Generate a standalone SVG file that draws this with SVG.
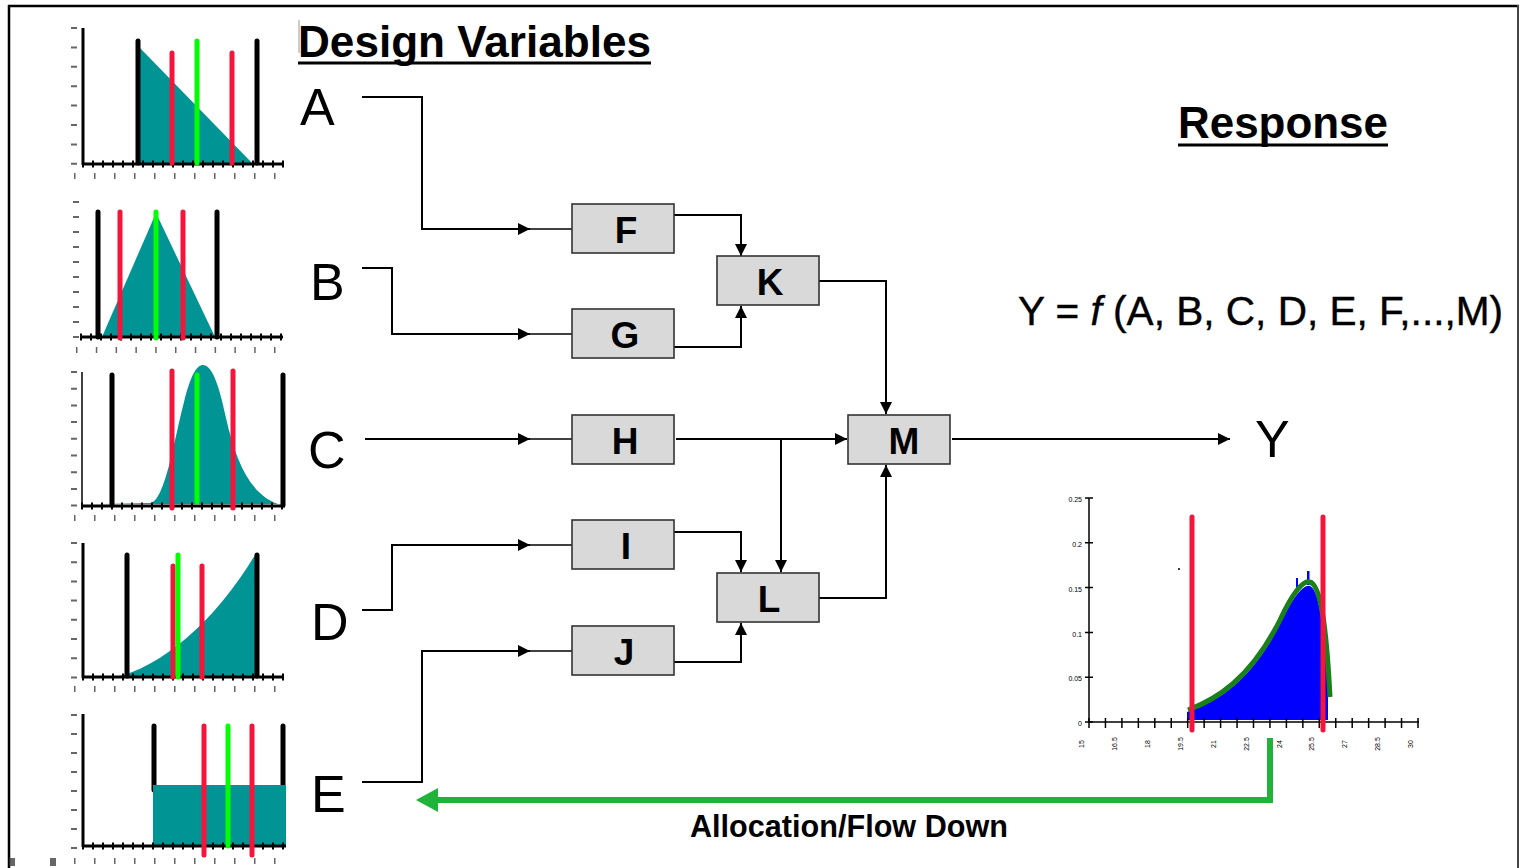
<svg xmlns="http://www.w3.org/2000/svg" width="1520" height="868" viewBox="0 0 1520 868">
<style>
.box{fill:#d9d9d9;stroke:#333;stroke-width:1.6}
.bl{font-family:"Liberation Sans",Arial,sans-serif;font-weight:bold;font-size:37px;text-anchor:middle;fill:#000}
.var{font-family:"Liberation Sans",Arial,sans-serif;font-size:52px;fill:#000}
.ttl{font-family:"Liberation Sans",Arial,sans-serif;font-weight:bold;font-size:44px;fill:#000}
.c{fill:none;stroke:#000;stroke-width:2}
.ct{fill:none;stroke:#000;stroke-width:1.4}
.ax{stroke:#000;stroke-width:3;fill:none}
.tk{stroke:#000;stroke-width:7;stroke-dasharray:2 8;fill:none}
.lb{stroke:#333;stroke-width:6;fill:none;opacity:0.75}
.teal{fill:#009494}
.k{stroke:#000;stroke-width:5;stroke-linecap:round}
.r{stroke:#f5143c;stroke-width:5;stroke-linecap:round}
.g{stroke:#00ff00;stroke-width:5;stroke-linecap:round}
.sm{font-family:"Liberation Sans",Arial,sans-serif;font-size:7px;fill:#000}
</style>
<defs>
<marker id="ah" markerWidth="12" markerHeight="12" refX="12" refY="6" orient="auto" markerUnits="userSpaceOnUse"><path d="M0,0 L12,6 L0,12 Z" fill="#000"/></marker>
</defs>

<g id="frame">
<line x1="8" y1="6" x2="1519" y2="6" stroke="#000" stroke-width="2.5"/>
<line x1="9" y1="5" x2="9" y2="868" stroke="#000" stroke-width="2.5"/>
<line x1="1518" y1="5" x2="1518" y2="868" stroke="#444" stroke-width="2"/>
<line x1="299" y1="20" x2="299" y2="53" stroke="#999" stroke-width="1"/>
</g>

<g id="titles">
<text class="ttl" x="298" y="57" textLength="353" lengthAdjust="spacingAndGlyphs">Design Variables</text>
<line x1="298" y1="63" x2="651" y2="63" stroke="#000" stroke-width="3"/>
<text class="ttl" x="1178" y="138" textLength="210" lengthAdjust="spacingAndGlyphs">Response</text>
<line x1="1178" y1="145" x2="1388" y2="145" stroke="#000" stroke-width="3"/>
</g>

<g id="chartA">
<polygon class="teal" points="140,48 253,164 140,164"/>
<line class="ax" x1="83" y1="28" x2="83" y2="165"/>
<line class="ax" x1="82" y1="164" x2="284" y2="164"/>
<line class="tk" x1="82" y1="164" x2="285" y2="164"/>
<line class="lb" x1="74" y1="27" x2="74" y2="166" stroke-width="6" stroke-dasharray="2 17.4"/>
<line class="lb" x1="74" y1="176" x2="284" y2="176" stroke-width="7" stroke-dasharray="1.5 18.5"/>
<line class="k" x1="138" y1="41" x2="138" y2="163"/>
<line class="k" x1="257" y1="41" x2="257" y2="163"/>
<line class="r" x1="172" y1="53" x2="172" y2="163"/>
<line class="r" x1="232" y1="53" x2="232" y2="163"/>
<line class="g" x1="197" y1="41" x2="197" y2="163"/>
</g>

<g id="chartB">
<polygon class="teal" points="102,337 156,213 215,337"/>
<line class="ax" x1="80" y1="337" x2="283" y2="337"/>
<line class="tk" x1="80" y1="337" x2="284" y2="337" stroke-dasharray="2 7.8"/>
<line class="lb" x1="76" y1="201" x2="76" y2="339" stroke-dasharray="2 13"/>
<line class="lb" x1="76" y1="350" x2="284" y2="350" stroke-width="7" stroke-dasharray="1.5 18.3"/>
<line class="k" x1="98" y1="212" x2="98" y2="337"/>
<line class="k" x1="217" y1="212" x2="217" y2="337"/>
<line class="r" x1="120" y1="212" x2="120" y2="338"/>
<line class="r" x1="183" y1="212" x2="183" y2="338"/>
<line class="g" x1="156" y1="212" x2="156" y2="338"/>
</g>

<g id="chartC">
<path class="teal" d="M103,504 L150,503 C165,502 174,440 184,402 C191,374 197,365 203,365 C211,365 218,380 226,418 C236,462 250,494 278,504 Z"/>
<line x1="82" y1="372" x2="82" y2="506" stroke="#000" stroke-width="1.5"/>
<line class="ax" x1="81" y1="506" x2="285" y2="506"/>
<line class="tk" x1="81" y1="506" x2="285" y2="506"/>
<line class="lb" x1="74" y1="371" x2="74" y2="508" stroke-dasharray="2 14.7"/>
<line class="lb" x1="74" y1="518" x2="284" y2="518" stroke-width="7" stroke-dasharray="1.5 18.5"/>
<line class="k" x1="112" y1="375" x2="112" y2="505"/>
<line class="k" x1="283" y1="375" x2="283" y2="505"/>
<line class="r" x1="172" y1="371" x2="172" y2="508"/>
<line class="r" x1="233" y1="371" x2="233" y2="508"/>
<line class="g" x1="197" y1="375" x2="197" y2="502"/>
</g>

<g id="chartD">
<path class="teal" d="M115,677 C160,668 215,622 255,555 L258,556 L258,677 Z"/>
<line class="ax" x1="83" y1="543" x2="83" y2="678"/>
<line class="ax" x1="82" y1="677" x2="283" y2="677"/>
<line class="tk" x1="82" y1="677" x2="284" y2="677"/>
<line class="lb" x1="74" y1="542" x2="74" y2="679" stroke-dasharray="2 17.2"/>
<line class="lb" x1="74" y1="689" x2="284" y2="689" stroke-width="7" stroke-dasharray="1.5 18.5"/>
<line class="k" x1="127" y1="555" x2="127" y2="676"/>
<line class="k" x1="257" y1="555" x2="257" y2="676"/>
<line class="r" x1="173" y1="566" x2="173" y2="677"/>
<line class="r" x1="202" y1="566" x2="202" y2="677"/>
<line class="g" x1="178" y1="555" x2="178" y2="677"/>
</g>

<g id="chartE">
<line class="k" x1="154" y1="726" x2="154" y2="790"/>
<line class="k" x1="283" y1="726" x2="283" y2="790"/>
<rect class="teal" x="153" y="785" width="133" height="61"/>
<line class="ax" x1="83" y1="714" x2="83" y2="847"/>
<line class="ax" x1="82" y1="846" x2="286" y2="846"/>
<line class="tk" x1="82" y1="846" x2="287" y2="846"/>
<line class="lb" x1="74" y1="714" x2="74" y2="850" stroke-dasharray="2 17"/>
<line class="lb" x1="74" y1="861" x2="284" y2="861" stroke-width="7" stroke-dasharray="1.5 18.5"/>
<line class="lb" x1="12" y1="858" x2="12" y2="866" stroke-width="1.5"/>
<line class="lb" x1="53" y1="858" x2="53" y2="866" stroke-width="1.5"/>
<line class="r" x1="204" y1="726" x2="204" y2="855"/>
<line class="r" x1="252" y1="726" x2="252" y2="855"/>
<line class="g" x1="228" y1="726" x2="228" y2="846"/>
</g>

<g id="labels">
<text class="var" x="300" y="125">A</text>
<text class="var" x="310" y="300">B</text>
<text class="var" x="308" y="468">C</text>
<text class="var" x="311" y="640">D</text>
<text class="var" x="311" y="812">E</text>
<text class="var" x="1255" y="457">Y</text>
<text x="1018" y="325" font-family="'Liberation Sans',Arial,sans-serif" font-size="40" fill="#000" stroke="#000" stroke-width="0.4" textLength="485" lengthAdjust="spacingAndGlyphs">Y = <tspan font-style="italic">f</tspan> (A, B, C, D, E, F,...,M)</text>
</g>

<g id="connectors">
<path class="c" d="M362,97 H422 V229 H530" marker-end="url(#ah)"/>
<path class="ct" d="M530,229 H572"/>
<path class="c" d="M362,268 H392 V334 H530" marker-end="url(#ah)"/>
<path class="ct" d="M530,334 H572"/>
<path class="c" d="M365,439 H530" marker-end="url(#ah)"/>
<path class="ct" d="M530,439 H572"/>
<path class="c" d="M362,610 H392 V545 H530" marker-end="url(#ah)"/>
<path class="ct" d="M530,545 H572"/>
<path class="c" d="M362,782 H422 V651 H530" marker-end="url(#ah)"/>
<path class="ct" d="M530,651 H572"/>
<path class="c" d="M674,215 H741 V256" marker-end="url(#ah)"/>
<path class="c" d="M674,347 H741 V306" marker-end="url(#ah)"/>
<path class="c" d="M819,281 H886 V414" marker-end="url(#ah)"/>
<path class="c" d="M676,439 H847" marker-end="url(#ah)"/>
<path class="c" d="M781,439 V572" marker-end="url(#ah)"/>
<path class="c" d="M674,532 H741 V572" marker-end="url(#ah)"/>
<path class="c" d="M674,662 H741 V623" marker-end="url(#ah)"/>
<path class="c" d="M819,598 H886 V465" marker-end="url(#ah)"/>
<path class="c" d="M952,439 H1230" marker-end="url(#ah)"/>
<path d="M1270,738 V800 H436" fill="none" stroke="#1fb33a" stroke-width="6"/>
<polygon points="416,800 438,788 438,812" fill="#1fb33a"/>
<text x="849" y="837" text-anchor="middle" font-family="'Liberation Sans',Arial,sans-serif" font-weight="bold" font-size="31" textLength="318" lengthAdjust="spacingAndGlyphs" fill="#000">Allocation/Flow Down</text>
</g>

<g id="F"><rect class="box" x="572" y="204" width="102" height="49"/><text class="bl" x="626" y="243">F</text></g>
<g id="G"><rect class="box" x="572" y="309" width="102" height="49"/><text class="bl" x="625" y="348">G</text></g>
<g id="H"><rect class="box" x="572" y="415" width="102" height="49"/><text class="bl" x="625" y="454">H</text></g>
<g id="I"><rect class="box" x="572" y="520" width="102" height="49"/><text class="bl" x="626" y="559">I</text></g>
<g id="J"><rect class="box" x="572" y="626" width="102" height="49"/><text class="bl" x="624" y="665">J</text></g>
<g id="K"><rect class="box" x="717" y="256" width="102" height="49"/><text class="bl" x="770" y="295">K</text></g>
<g id="L"><rect class="box" x="717" y="573" width="102" height="49"/><text class="bl" x="769" y="612">L</text></g>
<g id="M"><rect class="box" x="848" y="415" width="102" height="49"/><text class="bl" x="904" y="454">M</text></g>

<g id="responseChart">
<path d="M1187,720 L1187,712 C1214,703 1250,684 1280,624 C1294,595 1304,584 1310,586 C1318,589 1324,620 1328,690 L1328,720 Z" fill="#0000ff"/>
<rect x="1296" y="578" width="2" height="10" fill="#0000ff"/>
<rect x="1307" y="571" width="2.5" height="14" fill="#0000ff"/>
<line x1="1089" y1="498" x2="1089" y2="723" stroke="#000" stroke-width="1.5"/>
<line x1="1089" y1="722" x2="1419" y2="722" stroke="#000" stroke-width="1.5"/>
<line x1="1088.25" y1="723" x2="1420" y2="723" stroke="#000" stroke-width="10" stroke-dasharray="1.5 14.95"/>
<line x1="1089" y1="497.25" x2="1089" y2="724" stroke="#000" stroke-width="8" stroke-dasharray="1.5 43.3"/>
<path d="M1188,710 C1215,700 1250,680 1280,620 C1294,590 1304,580 1310,582 C1320,585 1326,620 1330,697" fill="none" stroke="#1a801a" stroke-width="5"/>
<line class="r" x1="1192" y1="517" x2="1192" y2="730" stroke-width="6"/>
<line class="r" x1="1323" y1="517" x2="1323" y2="730" stroke-width="6"/>
<circle cx="1179" cy="569" r="1" fill="#000"/>
<text class="sm" x="1082" y="502" text-anchor="end">0.25</text>
<text class="sm" x="1082" y="547" text-anchor="end">0.2</text>
<text class="sm" x="1082" y="592" text-anchor="end">0.15</text>
<text class="sm" x="1082" y="637" text-anchor="end">0.1</text>
<text class="sm" x="1082" y="681" text-anchor="end">0.05</text>
<text class="sm" x="1082" y="726" text-anchor="end">0</text>
<text class="sm" text-anchor="middle" transform="translate(1084,744) rotate(-90)">15</text>
<text class="sm" text-anchor="middle" transform="translate(1117,744) rotate(-90)">16.5</text>
<text class="sm" text-anchor="middle" transform="translate(1150,744) rotate(-90)">18</text>
<text class="sm" text-anchor="middle" transform="translate(1183,744) rotate(-90)">19.5</text>
<text class="sm" text-anchor="middle" transform="translate(1216,744) rotate(-90)">21</text>
<text class="sm" text-anchor="middle" transform="translate(1249,744) rotate(-90)">22.5</text>
<text class="sm" text-anchor="middle" transform="translate(1282,744) rotate(-90)">24</text>
<text class="sm" text-anchor="middle" transform="translate(1314,744) rotate(-90)">25.5</text>
<text class="sm" text-anchor="middle" transform="translate(1347,744) rotate(-90)">27</text>
<text class="sm" text-anchor="middle" transform="translate(1380,744) rotate(-90)">28.5</text>
<text class="sm" text-anchor="middle" transform="translate(1413,744) rotate(-90)">30</text>
</g>
</svg>
